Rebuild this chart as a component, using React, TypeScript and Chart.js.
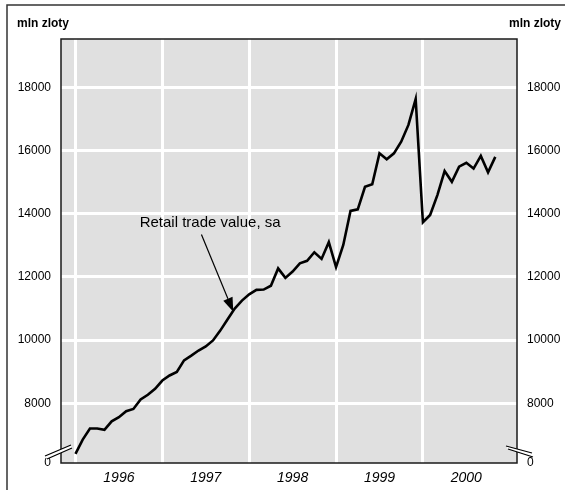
import React, { useEffect, useRef } from "react";
import { Chart, registerables } from "chart.js";

Chart.register(...registerables);

// ---- data ----
const YEARS = ["1996", "1997", "1998", "1999", "2000"];
const MONTH_NAMES = ["Jan", "Feb", "Mar", "Apr", "May", "Jun", "Jul", "Aug", "Sep", "Oct", "Nov", "Dec"];

// Retail trade value, seasonally adjusted (mln zloty), monthly Jan 1996 - Nov 2000
const RETAIL_VALUES = [
  6400, 6850, 7200, 7200, 7160, 7430, 7560, 7750, 7820, 8120, 8270, 8460,
  8720, 8880, 8990, 9360, 9510, 9670, 9800, 9990, 10300, 10650, 11000, 11250,
  11450, 11590, 11600, 11720, 12270, 11970, 12170, 12430, 12510, 12780, 12570, 13100,
  12310, 13010, 14090, 14140, 14850, 14930, 15910, 15720, 15910, 16280, 16810, 17630,
  13730, 13960, 14590, 15350, 15010, 15490, 15610, 15430, 15830, 15310, 15800,
];

const MONTH_LABELS = YEARS.flatMap((y) => MONTH_NAMES.map((m) => `${m} ${y}`)).slice(0, RETAIL_VALUES.length);

const Y_TICKS = [8000, 10000, 12000, 14000, 16000, 18000];
const Y_MIN = 6110;
const Y_MAX = 19530;
const BREAK_LABEL = "0";
const UNIT_LABEL = "mln zloty";
const SERIES_LABEL = "Retail trade value, sa";

const FONT = "Arial, 'Liberation Sans', Helvetica, sans-serif";

const chromePlugin = {
  id: "chrome",
  beforeDraw(chart: any) {
    const { ctx, chartArea: a, width, height } = chart;
    ctx.save();
    ctx.fillStyle = "#ffffff";
    ctx.fillRect(0, 0, width, height);
    ctx.fillStyle = "#e0e0e0";
    ctx.fillRect(a.left, a.top, a.right - a.left, a.bottom - a.top);
    ctx.restore();
  },
  afterDraw(chart: any) {
    const { ctx, chartArea: a, scales } = chart;
    const xs = scales.x;
    const ys = scales.y;
    ctx.save();

    // plot frame
    ctx.strokeStyle = "#1a1a1a";
    ctx.lineWidth = 1.5;
    ctx.strokeRect(a.left, a.top, a.right - a.left, a.bottom - a.top);

    // axis break marks
    const breakMark = (p1: number[], p2: number[], q1: number[], q2: number[]) => {
      ctx.beginPath();
      ctx.moveTo(p1[0], p1[1]);
      ctx.lineTo(p2[0], p2[1]);
      ctx.lineTo(q2[0], q2[1]);
      ctx.lineTo(q1[0], q1[1]);
      ctx.closePath();
      ctx.fillStyle = "#ffffff";
      ctx.fill();
      ctx.strokeStyle = "#000000";
      ctx.lineWidth = 1.2;
      ctx.beginPath();
      ctx.moveTo(p1[0], p1[1]);
      ctx.lineTo(p2[0], p2[1]);
      ctx.moveTo(q1[0], q1[1]);
      ctx.lineTo(q2[0], q2[1]);
      ctx.stroke();
    };
    const L = a.left, R = a.right, B = a.bottom;
    breakMark([L - 16, B - 7], [L + 10, B - 18], [L - 14, B - 4], [L + 11, B - 15]);
    breakMark([R - 11, B - 17], [R + 15, B - 10], [R - 9, B - 14], [R + 16, B - 6]);

    // unit labels
    ctx.fillStyle = "#000000";
    ctx.font = `bold 12px ${FONT}`;
    ctx.textBaseline = "middle";
    ctx.textAlign = "left";
    ctx.fillText(UNIT_LABEL, 17, 24);
    ctx.textAlign = "right";
    ctx.fillText(UNIT_LABEL, 561, 24);

    // annotation
    ctx.font = `15px ${FONT}`;
    ctx.textAlign = "center";
    ctx.fillText(SERIES_LABEL, xs.getPixelForValue(18.6), ys.getPixelForValue(13700));
    const x0 = xs.getPixelForValue(17.4), y0 = ys.getPixelForValue(13340);
    const x1 = xs.getPixelForValue(21.8), y1 = ys.getPixelForValue(10900);
    const ang = Math.atan2(y1 - y0, x1 - x0);
    const headLen = 14, headW = 5;
    const bx = x1 - headLen * Math.cos(ang), by = y1 - headLen * Math.sin(ang);
    ctx.strokeStyle = "#000000";
    ctx.lineWidth = 1.2;
    ctx.beginPath();
    ctx.moveTo(x0, y0);
    ctx.lineTo(bx, by);
    ctx.stroke();
    ctx.beginPath();
    ctx.moveTo(x1, y1);
    ctx.lineTo(bx + headW * Math.sin(ang), by - headW * Math.cos(ang));
    ctx.lineTo(bx - headW * Math.sin(ang), by + headW * Math.cos(ang));
    ctx.closePath();
    ctx.fillStyle = "#000000";
    ctx.fill();

    // outer frame (left and top edges visible)
    ctx.strokeStyle = "#333333";
    ctx.lineWidth = 1.5;
    ctx.beginPath();
    ctx.moveTo(7, 495);
    ctx.lineTo(7, 5);
    ctx.lineTo(570, 5);
    ctx.stroke();

    ctx.restore();
  },
};

const yTicksList = () => [Y_MIN, ...Y_TICKS].map((v) => ({ value: v }));
const yLabel = (v: any) => (v === Y_MIN ? BREAK_LABEL : String(v));

export default function App() {
  const ref = useRef<HTMLCanvasElement | null>(null);

  useEffect(() => {
    if (!ref.current) return;
    const chart = new Chart(ref.current, {
      type: "line",
      data: {
        labels: MONTH_LABELS,
        datasets: [
          {
            label: SERIES_LABEL,
            data: RETAIL_VALUES.map((v, i) => ({ x: i, y: v })),
            borderColor: "#000000",
            borderWidth: 2.6,
            pointRadius: 0,
            tension: 0,
            fill: false,
            yAxisID: "y",
          },
        ],
      },
      options: {
        animation: false,
        responsive: false,
        devicePixelRatio: 1,
        layout: { padding: { top: 39, left: 0, right: 0, bottom: 0 } },
        plugins: { legend: { display: false }, tooltip: { enabled: false }, title: { display: false } },
        scales: {
          x: {
            type: "linear",
            min: -2,
            max: 61,
            afterBuildTicks: (s: any) => {
              s.ticks = [0, 6, 12, 18, 24, 30, 36, 42, 48, 54].map((v) => ({ value: v }));
            },
            afterFit: (s: any) => {
              s.height = 27;
            },
            ticks: {
              autoSkip: false,
              maxRotation: 0,
              padding: 7,
              color: "#000000",
              font: { family: FONT, size: 14, style: "italic" },
              callback: (v: any) => (v % 12 === 6 ? YEARS[(v - 6) / 12] : ""),
            },
            grid: {
              color: (c: any) => (c.tick && c.tick.value % 12 === 0 ? "#ffffff" : "rgba(0,0,0,0)"),
              lineWidth: 3,
              drawTicks: false,
            },
            border: { display: false },
          },
          y: {
            type: "linear",
            position: "left",
            min: Y_MIN,
            max: Y_MAX,
            afterBuildTicks: (s: any) => {
              s.ticks = yTicksList();
            },
            afterFit: (s: any) => {
              s.width = 61;
            },
            ticks: {
              padding: 10,
              color: "#000000",
              font: { family: FONT, size: 12 },
              callback: yLabel,
            },
            grid: {
              color: (c: any) => (c.tick && c.tick.value === Y_MIN ? "rgba(0,0,0,0)" : "#ffffff"),
              lineWidth: 3,
              drawTicks: false,
            },
            border: { display: false },
          },
          y2: {
            type: "linear",
            position: "right",
            min: Y_MIN,
            max: Y_MAX,
            afterBuildTicks: (s: any) => {
              s.ticks = yTicksList();
            },
            afterFit: (s: any) => {
              s.width = 48;
            },
            ticks: {
              padding: 10,
              color: "#000000",
              font: { family: FONT, size: 12 },
              callback: yLabel,
            },
            grid: { display: false, drawTicks: false },
            border: { display: false },
          },
        },
      } as any,
      plugins: [chromePlugin],
    });
    return () => chart.destroy();
  }, []);

  return (
    <div style={{ position: "fixed", left: 0, top: 0, width: 565, height: 490, background: "#fff" }}>
      <canvas ref={ref} width={565} height={490} style={{ display: "block", width: 565, height: 490 }} />
    </div>
  );
}
